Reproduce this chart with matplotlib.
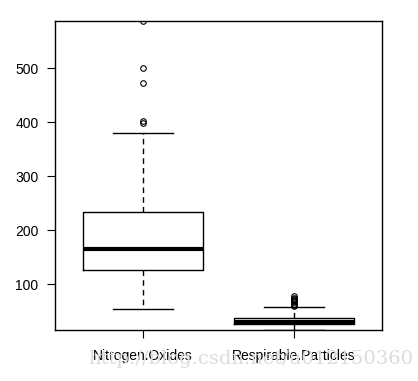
import matplotlib
matplotlib.use("Agg")
import matplotlib.pyplot as plt

plt.rcParams['font.family'] = ['Liberation Sans', 'DejaVu Sans']

# values
groups = ['Nitrogen.Oxides', 'Respirable.Particles']
q1 = [127, 27]
med = [166, 30]
q3 = [233, 37]
whislo = [53, 15]
whishi = [381, 57]
fliers = [
    [398, 403, 473, 500, 588],
    [60, 62, 64, 66, 68, 70, 72, 75, 78],
]
yticks = [100, 200, 300, 400, 500]

stats = []
for i, name in enumerate(groups):
    stats.append({'label': name, 'q1': q1[i], 'med': med[i], 'q3': q3[i],
                  'whislo': whislo[i], 'whishi': whishi[i], 'fliers': fliers[i]})

fig = plt.figure(figsize=(4.18, 3.81), dpi=100)
ax = fig.add_axes([0.1316, 0.1339, 0.7823, 0.811])

ax.bxp(stats, positions=[1, 2], widths=0.8,
       boxprops=dict(color='black', linewidth=1),
       medianprops=dict(color='black', linewidth=3, solid_capstyle='butt'),
       whiskerprops=dict(color='black', linewidth=1, linestyle=(0, (4, 3))),
       capprops=dict(color='black', linewidth=1),
       capwidths=0.4,
       flierprops=dict(marker='o', markersize=4, markerfacecolor='none',
                       markeredgecolor='black', markeredgewidth=0.8))

ax.set_xlim(0.417, 2.583)
ax.set_ylim(15, 588)
ax.set_yticks(yticks)
ax.set_yticklabels([str(v) for v in yticks])
ax.tick_params(direction='out', length=5.8, width=0.8, labelsize=10, pad=6)
ax.tick_params(axis='x', pad=8)
for s in ax.spines.values():
    s.set_linewidth(1)

# blog watermark in the lower part of the picture
fig.text(0.6, 0.058, 'http://blog.csdn.net/u012150360', family='DejaVu Serif',
         fontsize=14, color='#dcdcdc', ha='center', va='center', zorder=0)

fig.savefig('out.png', dpi=100)
